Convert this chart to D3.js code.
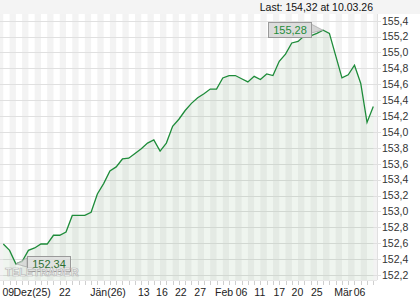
<!DOCTYPE html>
<html>
<head>
<meta charset="utf-8">
<script src="https://cdn.jsdelivr.net/npm/d3@7/dist/d3.min.js"></script>
<style>
  body { margin: 0; background: #fff; }
  svg { display: block; font-family: "Liberation Sans", Arial, sans-serif; }
</style>
</head>
<body>
<div id="chart"></div>
<script>
// daily closing values, 09.12.25 .. 10.03.26
var values = [
  152.59, 152.51, 152.34, 152.37, 152.51, 152.54, 152.59, 152.59, 152.70, 152.70,
  152.74, 152.95, 152.95, 152.95, 152.99, 153.22, 153.35, 153.51, 153.56, 153.66,
  153.67, 153.73, 153.79, 153.86, 153.90, 153.76, 153.86, 154.07, 154.16, 154.27,
  154.36, 154.43, 154.48, 154.54, 154.54, 154.68, 154.71, 154.71, 154.67, 154.63,
  154.70, 154.66, 154.73, 154.71, 154.89, 154.98, 155.12, 155.14, 155.21, 155.21,
  155.24, 155.28, 155.24, 154.96, 154.68, 154.72, 154.84, 154.61, 154.12, 154.32
];

var yTicks = [152.2, 152.4, 152.6, 152.8, 153.0, 153.2, 153.4, 153.6, 153.8,
              154.0, 154.2, 154.4, 154.6, 154.8, 155.0, 155.2, 155.4];

// axis labels and where they sit (in trading-day units)
var xLabels = ["09", "Dez(25)", "22", "Jän(26)", "13", "16", "22", "27",
               "Feb", "06", "11", "17", "20", "25", "Mär", "06"];
var xLabelAt = [0.8, 4.6, 9.8, 16.7, 22.4, 25.3, 28.3, 31.4,
                35.2, 38.0, 40.9, 44.0, 46.9, 50.0, 54.2, 56.8];

var lastText = "Last: 154,32 at 10.03.26";

var W = 420, H = 300;
var plot = {left: 0, right: 377, top: 14, bottom: 280};

var fmt = function (v, d) { return v.toFixed(d).replace(".", ","); };

var svg = d3.select("#chart").append("svg")
  .attr("width", W).attr("height", H);

var x = d3.scaleLinear().domain([0, values.length - 1]).range([3.3, 373.3]);
var y = d3.scaleLinear().domain([152.2, 155.4]).range([275, 20.7]);

//-- top band
svg.append("rect").attr("x", 0).attr("y", 0).attr("width", W).attr("height", plot.top)
  .attr("fill", "#f4f4f4");

svg.append("text")
  .attr("x", 373).attr("y", 10.5)
  .attr("text-anchor", "end")
  .attr("font-size", "10.5px")
  .attr("fill", "#111")
  .text(lastText);

//-- plot background with day stripes
var plotG = svg.append("g");
plotG.append("rect")
  .attr("x", plot.left).attr("y", plot.top)
  .attr("width", plot.right - plot.left).attr("height", plot.bottom - plot.top)
  .attr("fill", "#fff");

var stripes = d3.range(-1, values.length, 2);
plotG.selectAll(".stripe").data(stripes).enter().append("rect")
  .attr("class", "stripe")
  .attr("x", function (i) { return Math.max(plot.left, x(i)); })
  .attr("y", plot.top)
  .attr("width", function (i) {
    return Math.min(plot.right, x(i + 1)) - Math.max(plot.left, x(i));
  })
  .attr("height", plot.bottom - plot.top)
  .attr("fill", "#f3f3f3");

//-- horizontal grid + right axis
plotG.selectAll(".grid").data(yTicks).enter().append("line")
  .attr("class", "grid")
  .attr("x1", plot.left).attr("x2", plot.right + 4)
  .attr("y1", function (d) { return Math.round(y(d)) + 0.5; })
  .attr("y2", function (d) { return Math.round(y(d)) + 0.5; })
  .attr("stroke", "#e0e0e0").attr("stroke-width", 1);

svg.append("line")
  .attr("x1", plot.right + 0.5).attr("x2", plot.right + 0.5)
  .attr("y1", plot.top).attr("y2", plot.bottom)
  .attr("stroke", "#e0e0e0");

svg.selectAll(".ylab").data(yTicks).enter().append("text")
  .attr("class", "ylab")
  .attr("x", 382)
  .attr("y", function (d) { return y(d) + 3.8; })
  .attr("font-size", "10.5px")
  .attr("fill", "#333")
  .text(function (d) { return fmt(d, 1); });

//-- area + line
var area = d3.area()
  .x(function (d, i) { return x(i); })
  .y0(plot.bottom)
  .y1(function (d) { return y(d); });

var line = d3.line()
  .x(function (d, i) { return x(i); })
  .y(function (d) { return y(d); });

plotG.append("path").datum(values)
  .attr("d", area)
  .attr("fill", "#2e7d32").attr("fill-opacity", 0.08);

plotG.append("path").datum(values)
  .attr("d", line)
  .attr("fill", "none")
  .attr("stroke", "#1e8c3a").attr("stroke-width", 1.3);

//-- bottom day ticks + labels
svg.append("line")
  .attr("x1", plot.left).attr("x2", plot.right)
  .attr("y1", plot.bottom + 0.5).attr("y2", plot.bottom + 0.5)
  .attr("stroke", "#e8e8e8");

svg.selectAll(".xtick").data(d3.range(values.length)).enter().append("line")
  .attr("class", "xtick")
  .attr("x1", function (i) { return Math.round(x(i)) + 0.5; })
  .attr("x2", function (i) { return Math.round(x(i)) + 0.5; })
  .attr("y1", plot.bottom + 1).attr("y2", plot.bottom + 5)
  .attr("stroke", "#cfcfcf");

svg.selectAll(".xlab").data(xLabels).enter().append("text")
  .attr("class", "xlab")
  .attr("x", function (d, i) { return x(xLabelAt[i]); })
  .attr("y", 295.5)
  .attr("text-anchor", "middle")
  .attr("font-size", "10.5px")
  .attr("fill", "#222")
  .text(function (d) { return d; });

//-- max / min markers
var iMax = d3.maxIndex(values), iMin = d3.minIndex(values);

function marker(i, bx, by, bw, bh, side, alpha, col) {
  var px = x(i), py = y(values[i]);
  var g = svg.append("g");
  var ex = side === "right" ? bx + bw : bx;
  g.append("polygon")
    .attr("points", [[ex, by + 2], [px, py], [ex, by + bh - 4]].join(" "))
    .attr("fill", "#d4d4d4").attr("fill-opacity", alpha)
    .attr("stroke", "#9a9a9a").attr("stroke-width", 0.6);
  g.append("rect")
    .attr("x", bx + 0.5).attr("y", by + 0.5)
    .attr("width", bw).attr("height", bh)
    .attr("fill", "#dcdcdc").attr("fill-opacity", alpha)
    .attr("stroke", "#9a9a9a");
  g.append("text")
    .attr("x", bx + bw / 2 + 0.5).attr("y", by + bh - 3.5)
    .attr("text-anchor", "middle")
    .attr("font-size", "11px")
    .attr("fill", col)
    .text(fmt(values[i], 2));
}

marker(iMax, 268, 22, 43, 15, "right", 1, "#1e8c3a");
marker(iMin, 27, 256, 43, 15, "left", 0.75, "#2a6e30");

//-- watermark, on top of the min box
svg.append("text")
  .attr("x", 42).attr("y", 276)
  .attr("text-anchor", "middle")
  .attr("font-size", "10.5px")
  .attr("font-weight", "bold")
  .attr("letter-spacing", "0.3px")
  .attr("fill", "#fff").attr("fill-opacity", 0.85)
  .attr("stroke", "#b4b4b4").attr("stroke-width", 0.7)
  .text("TELETRADER");
</script>
</body>
</html>
